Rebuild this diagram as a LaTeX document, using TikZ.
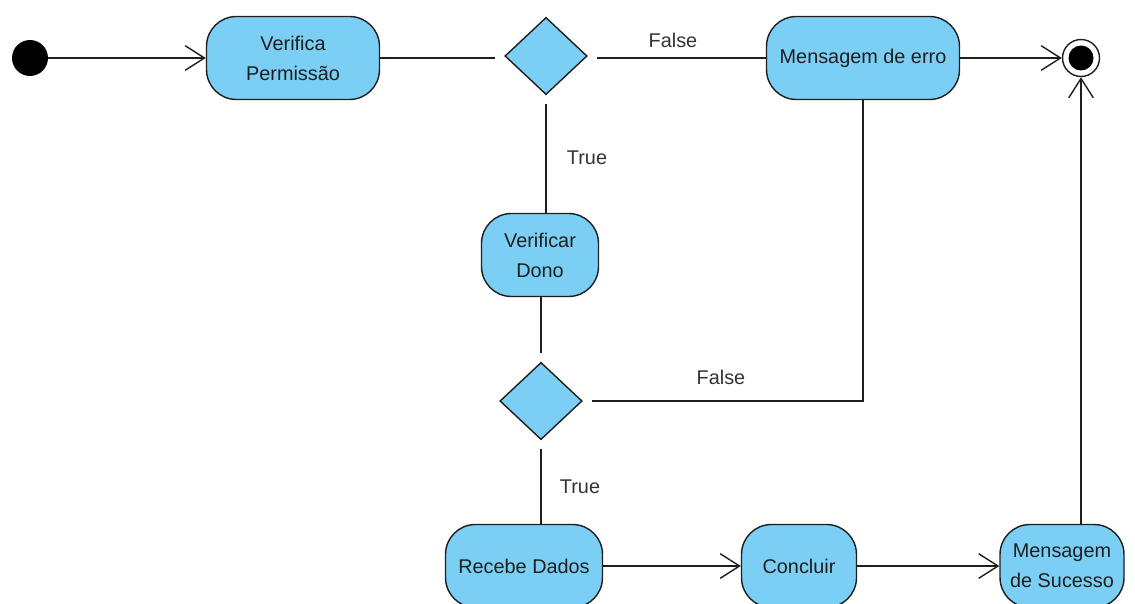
\documentclass[tikz,border=0pt]{standalone}
\usepackage{fontspec}
\setmainfont{Liberation Sans}
\usetikzlibrary{positioning,shapes.geometric,arrows.meta}
\definecolor{ink}   {HTML}{1E1E1E}
\definecolor{celeste}{HTML}{7BCFF5}
\definecolor{rotulo}{HTML}{333333}
\tikzset{
  >={Straight Barb[length=11pt,width=14pt]},
  every node/.style={font=\fontsize{11.3}{17}\selectfont},
  % --- nodes
  acao/.style    = {rounded corners=17pt, draw=ink, fill=celeste, align=center,
                    text=ink, line width=0.8pt, minimum height=1.66cm, inner sep=2pt},
  decisao/.style = {diamond, draw=ink, fill=celeste, line width=0.8pt,
                    minimum width=1.75cm, minimum height=1.65cm, inner sep=0pt,
                    outer sep=4pt},
  inicio/.style  = {circle, fill=black, minimum size=0.72cm, inner sep=0pt},
  fimext/.style  = {circle, draw=ink, fill=white, line width=0.8pt,
                    minimum size=0.74cm, inner sep=0pt},
  fimint/.style  = {circle, fill=black, minimum size=0.5cm, inner sep=0pt},
  guarda/.style  = {text=rotulo},
  % --- edges
  fluxo/.style   = {->, line width=0.8pt, draw=ink},
  liga/.style    = {line width=0.8pt, draw=ink},
}
\begin{document}
\begin{tikzpicture}[x=0.02cm,y=-0.02cm]
  \useasboundingbox (0,0) rectangle (1135,604);
  \clip (0,0) rectangle (1135,604);
  \node[inicio] (ini) at (30,58) {};
  \node[acao, minimum width=3.46cm] (vp)  at (293,58) {Verifica\\Permissão};
  \node[decisao] (d1) at (546,56) {};
  \node[acao, minimum width=3.86cm] (mde) at (863,58) {Mensagem de erro};
  \node[fimext] (fim) at (1081,58) {};
  \node[fimint] (fimc) at (fim) {};
  \node[acao, minimum width=2.34cm] (vd)  at (540,255) {Verificar\\Dono};
  \node[decisao] (d2) at (541,401) {};
  \node[acao, minimum width=3.14cm] (rd)  at (524,566) {Recebe Dados};
  \node[acao, minimum width=2.30cm] (con) at (799,566) {Concluir};
  \node[acao, minimum width=2.48cm] (mds) at (1062,566) {Mensagem\\de Sucesso};
  \node[guarda] (f1) at (673,40)  {False};
  \node[guarda] (t1) at (587,158) {True};
  \node[guarda] (f2) at (721,377) {False};
  \node[guarda] (t2) at (580,487) {True};
  \draw[fluxo] (ini) -- (vp);
  \draw[liga] (vp.east) -- (vp.east -| d1.west);
  \draw[liga] (mde.west -| d1.east) -- (mde.west);
  \draw[fluxo] (mde) -- (fim);
  \draw[liga] (d1.south) -- (d1.south |- vd.north);
  \draw[liga] (vd.south -| d2) -- (d2.north);
  \draw[liga] (d2.east) -- (d2.east -| mde.south) -- (mde.south);
  \draw[liga] (d2.south) -- (d2.south |- rd.north);
  \draw[fluxo] (rd) -- (con);
  \draw[fluxo] (con) -- (mds);
  \draw[fluxo] (fim |- mds.north) -- (fim.south);
\end{tikzpicture}
\end{document}
